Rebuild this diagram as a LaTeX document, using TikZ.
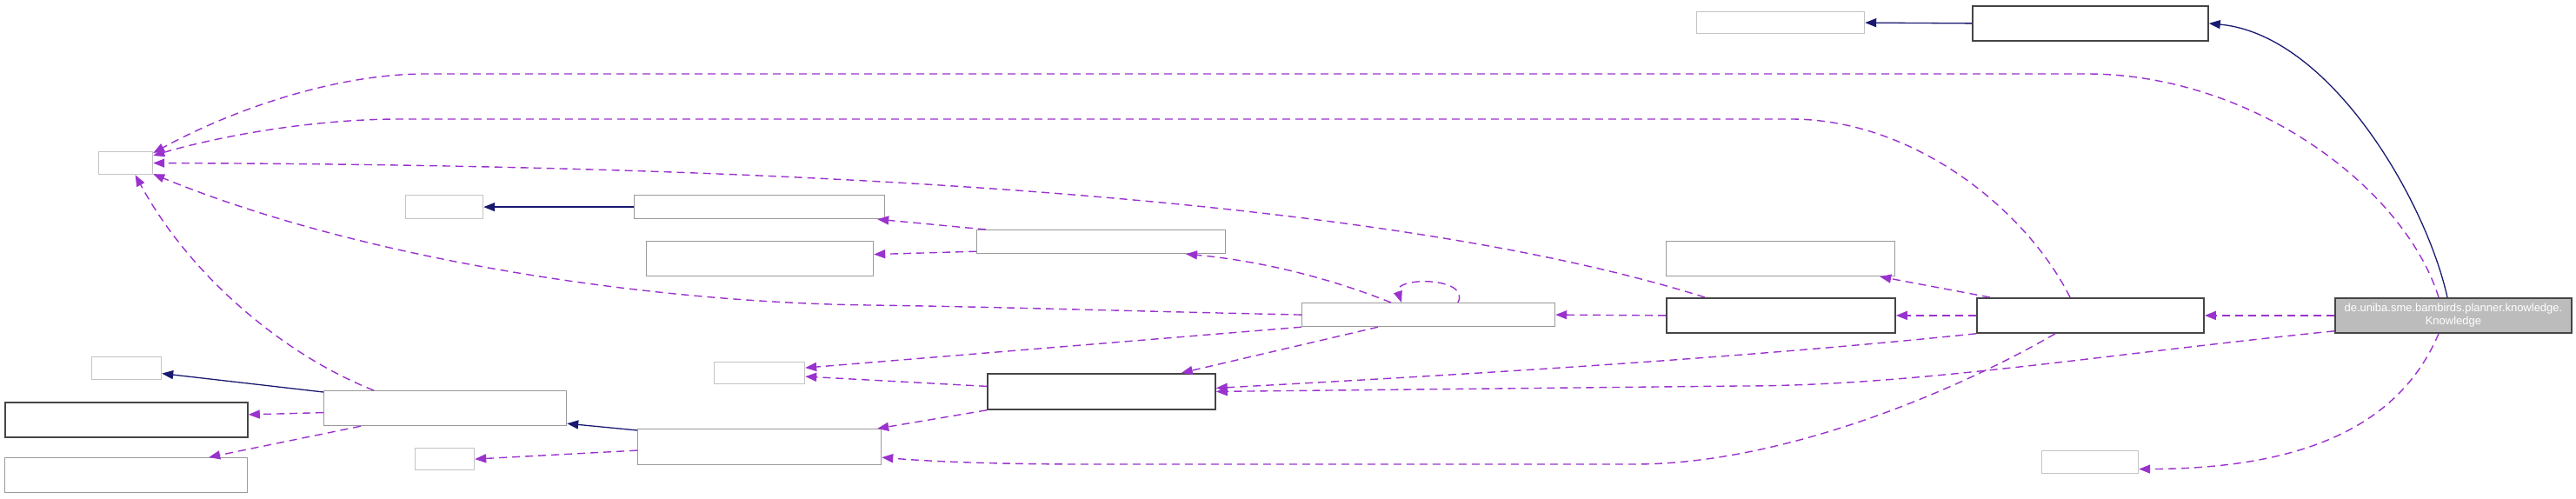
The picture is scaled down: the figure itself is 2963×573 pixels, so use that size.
\documentclass[tikz,border=0pt]{standalone}
\usepackage{fontspec}
\setmainfont{Liberation Sans}
\usetikzlibrary{arrows.meta}
\definecolor{usecol}{HTML}{9A32CD}
\definecolor{inhcol}{HTML}{191970}
\definecolor{boxlight}{HTML}{C4C4C4}
\definecolor{boxmid}{HTML}{9A9A9A}
\definecolor{boxdark}{HTML}{454545}
\definecolor{mainfill}{HTML}{BCBCBC}
\tikzset{
  nb/.style={draw, anchor=north west, inner sep=0pt, fill=white},
  lgt/.style={nb, draw=boxlight, line width=1.2pt},
  midb/.style={nb, draw=boxmid, line width=1.2pt},
  drk/.style={nb, draw=boxdark, line width=1.8pt},
  use/.style={draw=usecol, line width=1.4pt, dash pattern=on 9pt off 6pt, -{Triangle[length=13pt,width=10pt]}},
  inh/.style={draw=inhcol, line width=1.3pt, -{Triangle[length=13pt,width=10pt]}},
}
\begin{document}
\begin{tikzpicture}[x=1pt,y=-1pt]
\useasboundingbox (0,0) rectangle (2963,573);
% nodes
\node[lgt, minimum width=62pt, minimum height=26pt] (A) at (113,174) {};
\node[lgt, minimum width=89pt, minimum height=27pt] (B) at (466,224) {};
\node[midb, minimum width=288pt, minimum height=27pt] (C) at (729,224) {};
\node[midb, minimum width=261pt, minimum height=40pt] (D) at (743,277) {};
\node[lgt, minimum width=193pt, minimum height=25pt] (E) at (1951,13) {};
\node[drk, minimum width=271pt, minimum height=40pt] (F) at (2268,6) {};
\node[midb, minimum width=263pt, minimum height=40pt] (G) at (1916,277) {};
\node[drk, minimum width=263pt, minimum height=40pt] (H) at (1916,342) {};
\node[drk, minimum width=261pt, minimum height=40pt] (I) at (2273,342) {};
\node[lgt, minimum width=111pt, minimum height=26pt] (J) at (2348,518) {};
\node[drk, fill=mainfill, minimum width=272pt, minimum height=40pt, text=white,
      font=\fontsize{13}{15}\selectfont, align=center] (K) at (2685,342)
      {de.uniba.sme.bambirds.planner.knowledge.\\Knowledge};
\node[midb, minimum width=286pt, minimum height=27pt] (L) at (1123,264) {};
\node[midb, minimum width=291pt, minimum height=27pt] (M) at (1497,348) {};
\node[drk, minimum width=262pt, minimum height=41pt] (N) at (1135,429) {};
\node[lgt, minimum width=104pt, minimum height=25pt] (O) at (821,416) {};
\node[midb, minimum width=279pt, minimum height=40pt] (P) at (372,449) {};
\node[lgt, minimum width=80pt, minimum height=26pt] (Q) at (105,410) {};
\node[drk, minimum width=279pt, minimum height=40pt] (R) at (5,462) {};
\node[midb, minimum width=279pt, minimum height=40pt] (S) at (5,526) {};
\node[lgt, minimum width=68pt, minimum height=25pt] (T) at (477,515) {};
\node[midb, minimum width=280pt, minimum height=41pt] (U) at (733,493) {};
% inheritance (solid)
\draw[inh] ([xshift=130pt]K.north west) .. controls (2790,230) and (2680,40) .. (F.east);
\draw[inh] (F.west) -- (E.east);
\draw[inh] (C.west) -- (B.east);
\draw[inh] ([yshift=-2pt]P.north west) -- ([yshift=-6pt]Q.east);
\draw[inh] ([yshift=-2pt]U.north west) -- ([yshift=3pt]P.south east);
% usage (dashed)
\draw[use] ([xshift=120pt]K.north west) .. controls (2765,215) and (2590,85) .. (2400,85)
   -- (490,85) .. controls (380,85) and (260,130) .. ([yshift=-2pt]A.north east);
\draw[use] ([xshift=108pt]I.north west) .. controls (2330,240) and (2200,137) .. (2060,137)
   -- (460,137) .. controls (350,137) and (240,160) .. ([yshift=-5pt]A.north east);
\draw[use] ([xshift=45pt]H.north west) .. controls (1700,260) and (1200,190) .. (A.east);
\draw[use] (M.west) .. controls (1300,358) and (1150,353) .. (1000,351)
   .. controls (750,348) and (420,300) .. ([yshift=1pt]A.south east);
\draw[use] ([xshift=58pt]P.north west) .. controls (330,410) and (220,320) .. ([xshift=11pt]A.south);
\draw[use] ([xshift=180pt]M.north west) .. controls (1692,318) and (1602,318) .. ([xshift=115pt]M.north west);
\draw[use] ([xshift=103pt]M.north west) .. controls (1530,320) and (1450,300) .. ([xshift=241pt]L.south west);
\draw[use] (H.west) -- (M.east);
\draw[use] (I.west) -- (H.east);
\draw[use] (K.west) -- (I.east);
\draw[use] ([xshift=16pt]I.north west) -- ([xshift=-18pt]G.south east);
\draw[use] ([xshift=11pt]L.north west) -- ([xshift=-9pt]C.south east);
\draw[use] ([yshift=3pt]L.south west) -- ([yshift=5pt]D.east);
\draw[use] ([xshift=88pt]M.south west) -- ([xshift=-40pt]N.north east);
\draw[use] (M.south west) -- ([yshift=6pt]O.east);
\draw[use] ([yshift=6pt]N.west) -- ([yshift=-4pt]O.east);
\draw[use] (I.south west) .. controls (2000,412) and (1700,430) .. ([yshift=4pt]N.east);
\draw[use] ([yshift=3pt]K.south west) .. controls (2400,410) and (2200,444) .. (2000,444) -- (N.east);
\draw[use] (N.south west) -- ([xshift=-5pt]U.north east);
\draw[use] ([xshift=91pt]I.south west) .. controls (2250,450) and (2050,534) .. (1880,534)
   -- (1250,534) .. controls (1130,534) and (1060,530) .. ([yshift=-12pt]U.east);
\draw[use] ([yshift=-4pt]U.west) -- (T.east);
\draw[use] ([yshift=-5pt]P.west) -- ([yshift=6pt]R.east);
\draw[use] ([xshift=43pt]P.south west) -- ([xshift=-45pt]S.north east);
\draw[use] ([xshift=120pt]K.south west) .. controls (2760,490) and (2650,539) .. ([yshift=-8pt]J.east);
\end{tikzpicture}
\end{document}
